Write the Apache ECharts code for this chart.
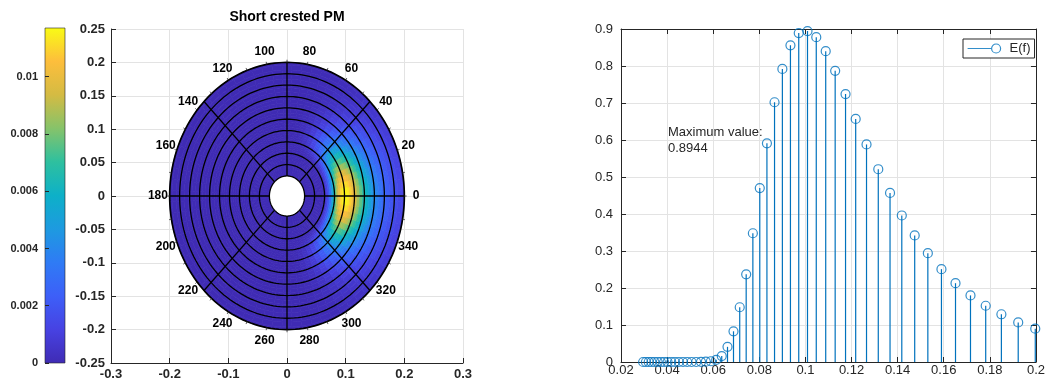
<!DOCTYPE html>
<html>
<head>
<meta charset="utf-8">
<script src="https://cdn.jsdelivr.net/npm/echarts@6/dist/echarts.min.js"></script>
<style>
  html, body { margin: 0; padding: 0; background: #fff; }
  #chart { width: 1048px; height: 383px; }
</style>
</head>
<body>
<div id="chart"></div>
<script>
// spectrum E(f)
const freqs = [0.0296, 0.0308, 0.0320, 0.0332, 0.0345, 0.0359, 0.0373, 0.0387, 0.0402, 0.0418,
  0.0434, 0.0451, 0.0469, 0.0487, 0.0506, 0.0526, 0.0547, 0.0568, 0.0590, 0.0613,
  0.0637, 0.0662, 0.0688, 0.0715, 0.0743, 0.0772, 0.0802, 0.0833, 0.0866, 0.0900,
  0.0935, 0.0971, 0.1009, 0.1047, 0.1088, 0.1129, 0.1174, 0.1218, 0.1265, 0.1316,
  0.1367, 0.1418, 0.1474, 0.1531, 0.1590, 0.1651, 0.1716, 0.1782, 0.1850, 0.1923, 0.1997]
const energy = [0, 0, 0, 0, 0, 0, 0, 0, 0, 0,
  0, 0, 0, 0, 0, 0, 0.0005, 0.001, 0.002, 0.006,
  0.016, 0.041, 0.083, 0.148, 0.237, 0.348, 0.470, 0.591, 0.702, 0.792,
  0.856, 0.889, 0.8944, 0.878, 0.840, 0.787, 0.724, 0.657, 0.588, 0.521,
  0.457, 0.396, 0.342, 0.294, 0.251, 0.213, 0.180, 0.152, 0.129, 0.107, 0.090]

// directional spreading (1/deg)
const spreadAngles = [-90, -85, -80, -75, -70, -65, -60, -55, -50, -45, -40, -35, -30, -25, -20, -15, -10, -5,
  0, 5, 10, 15, 20, 25, 30, 35, 40, 45, 50, 55, 60, 65, 70, 75, 80, 85, 90]
const spreadWeights = [0, 0.00001, 0.00007, 0.00024, 0.00052, 0.00098, 0.00164, 0.00248, 0.00347,
  0.00464, 0.00589, 0.00719, 0.0085, 0.00974, 0.01086, 0.01177, 0.01249, 0.01295,
  0.01308,
  0.01295, 0.01249, 0.01177, 0.01086, 0.00974, 0.0085, 0.00719, 0.00589, 0.00464,
  0.00347, 0.00248, 0.00164, 0.00098, 0.00052, 0.00024, 0.00007, 0.00001, 0]

const ringRadii = [0.03, 0.047, 0.064, 0.081, 0.098, 0.115, 0.132, 0.149, 0.166, 0.183, 0.2]
const spokeAngles = [0, 45, 90, 135, 180, 225, 270, 315]
const angleLabels = [0, 20, 40, 60, 80, 100, 120, 140, 160, 180, 200, 220, 240, 260, 280, 300, 320, 340]
const edgeTicks = [0, 10, 20, 30, 40, 50, 60, 70, 80, 90, 100, 110, 120, 130, 140, 150, 160, 170,
  180, 190, 200, 210, 220, 230, 240, 250, 260, 270, 280, 290, 300, 310, 320, 330, 340, 350]
const colorMax = 0.0117

const parula = ['#3f2bb4', '#4742e2', '#3d5ff8', '#2f7bf5', '#1e9ae0', '#0db0c8',
  '#2ec09f', '#86c36a', '#d4bb43', '#fdbe3c', '#f9fb15']
const FONT = '"Liberation Sans", Arial, sans-serif'
const cellStep = 5
const labelR = 0.22

// polar cells [r0, r1, a0, a1, value]
const heatCells = []
freqs.forEach((f, i) => {
  const rIn = ringRadii[0]
  const rOut = ringRadii[ringRadii.length - 1]
  const r0 = i === 0 ? rIn : Math.max(rIn, (freqs[i - 1] + f) / 2)
  const r1 = i === freqs.length - 1 ? rOut : (f + freqs[i + 1]) / 2
  for (let a = -180; a < 180; a += cellStep) {
    const k = spreadAngles.indexOf(a)
    const w = k >= 0 ? spreadWeights[k] : 0
    heatCells.push([r0, r1, a - cellStep / 2, a + cellStep / 2, energy[i] * w])
  }
})

function polarPt(api, r, deg) {
  const a = deg * Math.PI / 180
  return api.coord([r * Math.cos(a), r * Math.sin(a)])
}

const chart = echarts.init(document.getElementById('chart'))

const axisCol = '#262626'
const gridCol = '#e3e3e3'

const option = {
  animation: false,
  grid: [
    { left: 111, right: 585, top: 29, bottom: 20 },
    { left: 45, top: 28, width: 20, height: 335 },
    { left: 621, right: 4, top: 29, bottom: 21 }
  ],
  xAxis: [
    {
      gridIndex: 0, type: 'value', min: -0.3, max: 0.3, interval: 0.1,
      axisLine: { show: true, onZero: false, lineStyle: { color: axisCol } },
      axisTick: { inside: true, length: 5, lineStyle: { color: axisCol } },
      axisLabel: { margin: 5, color: axisCol, fontWeight: 'bold', fontSize: 13, fontFamily: FONT },
      splitLine: { show: true, lineStyle: { color: gridCol } }
    },
    { gridIndex: 1, type: 'value', min: 0, max: 1, show: false },
    {
      gridIndex: 2, type: 'value', min: 0.02, max: 0.2, interval: 0.02,
      axisLine: { show: true, onZero: false, lineStyle: { color: axisCol } },
      axisTick: { inside: true, length: 5, lineStyle: { color: axisCol } },
      axisLabel: { margin: 2, color: axisCol, fontSize: 13, fontFamily: FONT },
      splitLine: { show: true, lineStyle: { color: gridCol } }
    },
    {
      gridIndex: 2, type: 'value', position: 'top', min: 0.02, max: 0.2, interval: 0.02,
      axisLine: { show: true, onZero: false, lineStyle: { color: axisCol } },
      axisTick: { inside: true, length: 5, lineStyle: { color: axisCol } },
      axisLabel: { show: false }, splitLine: { show: false }
    }
  ],
  yAxis: [
    {
      gridIndex: 0, type: 'value', min: -0.25, max: 0.25, interval: 0.05,
      axisLine: { show: true, onZero: false, lineStyle: { color: axisCol } },
      axisTick: { inside: true, length: 5, lineStyle: { color: axisCol } },
      axisLabel: { margin: 6, color: axisCol, fontWeight: 'bold', fontSize: 13, fontFamily: FONT },
      splitLine: { show: true, lineStyle: { color: gridCol } }
    },
    {
      gridIndex: 1, type: 'value', min: 0, max: colorMax, interval: 0.002, z: 10,
      axisLine: { show: false },
      axisTick: { inside: true, length: 4, lineStyle: { color: axisCol } },
      axisLabel: { margin: 7, color: axisCol, fontWeight: 'bold', fontSize: 11, fontFamily: FONT, showMaxLabel: false },
      splitLine: { show: false }
    },
    {
      gridIndex: 2, type: 'value', min: 0, max: 0.9, interval: 0.1,
      axisLine: { show: true, onZero: false, lineStyle: { color: axisCol } },
      axisTick: { inside: true, length: 5, lineStyle: { color: axisCol } },
      axisLabel: { margin: 8, color: axisCol, fontSize: 13, fontFamily: FONT },
      splitLine: { show: true, lineStyle: { color: gridCol } }
    },
    {
      gridIndex: 2, type: 'value', position: 'right', min: 0, max: 0.9, interval: 0.1,
      axisLine: { show: true, onZero: false, lineStyle: { color: axisCol } },
      axisTick: { inside: true, length: 5, lineStyle: { color: axisCol } },
      axisLabel: { show: false }, splitLine: { show: false }
    }
  ],
  visualMap: {
    show: false, type: 'continuous', seriesIndex: 0, dimension: 4,
    min: 0, max: colorMax, inRange: { color: parula }
  },
  legend: {
    data: [{
      name: 'E(f)',
      icon: 'path://M0,4.5L23.5,4.5M33,4.5A4.5,4.5,0,1,1,24,4.5A4.5,4.5,0,1,1,33,4.5Z'
    }],
    left: 963, top: 39,
    itemWidth: 33, itemHeight: 9,
    padding: [3, 4, 3, 4],
    borderColor: axisCol, borderWidth: 1, backgroundColor: '#fff',
    selectedMode: false,
    itemStyle: { color: 'rgba(0,0,0,0)', borderColor: '#0072bd', borderWidth: 1.2 },
    textStyle: { fontSize: 13, color: axisCol, fontFamily: FONT, padding: [0, 0, 0, 4] }
  },
  graphic: [
    {
      type: 'text', x: 287, y: 17,
      style: { text: 'Short crested PM', align: 'center', verticalAlign: 'middle', font: 'bold 14px ' + FONT, fill: '#000' }
    },
    {
      type: 'text', x: 668, y: 124,
      style: { text: 'Maximum value:\n' + Math.max(...energy).toFixed(4), font: '13px ' + FONT, fill: axisCol, lineHeight: 16 }
    }
  ],
  series: [
    {
      type: 'custom', xAxisIndex: 0, yAxisIndex: 0,
      data: heatCells,
      renderItem: function (params, api) {
        const r0 = api.value(0), r1 = api.value(1), a0 = api.value(2), a1 = api.value(3)
        const pts = []
        for (let k = 0; k <= 2; k++) pts.push(polarPt(api, r1, a0 + (a1 - a0) * k / 2))
        for (let k = 2; k >= 0; k--) pts.push(polarPt(api, r0, a0 + (a1 - a0) * k / 2))
        const c = api.visual('color')
        return { type: 'polygon', shape: { points: pts }, style: { fill: c, stroke: c, lineWidth: 0.7 } }
      }
    },
    {
      type: 'custom', xAxisIndex: 0, yAxisIndex: 0,
      data: ringRadii.map(r => [r]),
      renderItem: function (params, api) {
        const r = api.value(0)
        const pts = []
        for (let d = 0; d < 360; d += 2) pts.push(polarPt(api, r, d))
        const outer = params.dataIndex === ringRadii.length - 1
        return {
          type: 'polygon', shape: { points: pts },
          style: { fill: params.dataIndex === 0 ? '#fff' : 'none', stroke: '#000', lineWidth: outer ? 1.7 : 1.3 }
        }
      }
    },
    {
      type: 'custom', xAxisIndex: 0, yAxisIndex: 0,
      data: spokeAngles.map(a => [a]),
      renderItem: function (params, api) {
        const a = api.value(0)
        const p0 = polarPt(api, ringRadii[0], a)
        const p1 = polarPt(api, ringRadii[ringRadii.length - 1], a)
        return { type: 'line', shape: { x1: p0[0], y1: p0[1], x2: p1[0], y2: p1[1] }, style: { stroke: '#000', lineWidth: 1.3 } }
      }
    },
    {
      type: 'custom', xAxisIndex: 0, yAxisIndex: 0,
      data: edgeTicks.map(a => [a]),
      renderItem: function (params, api) {
        const a = api.value(0)
        const rOut = ringRadii[ringRadii.length - 1]
        const p0 = polarPt(api, rOut, a)
        const p1 = polarPt(api, rOut + 0.004, a)
        return { type: 'line', shape: { x1: p0[0], y1: p0[1], x2: p1[0], y2: p1[1] }, style: { stroke: '#333', lineWidth: 0.8 } }
      }
    },
    {
      type: 'custom', xAxisIndex: 0, yAxisIndex: 0,
      data: angleLabels.map(a => [a]),
      renderItem: function (params, api) {
        const a = api.value(0)
        const p = polarPt(api, labelR, a)
        return {
          type: 'text', x: p[0], y: p[1],
          style: { text: String(a), align: 'center', verticalAlign: 'middle', font: 'bold 12px ' + FONT, fill: '#000' }
        }
      }
    },
    {
      type: 'custom', xAxisIndex: 1, yAxisIndex: 1,
      data: [[0, colorMax]],
      renderItem: function (params, api) {
        const p0 = api.coord([0, 0])
        const p1 = api.coord([1, api.value(1)])
        return {
          type: 'rect',
          shape: { x: p0[0], y: p1[1], width: p1[0] - p0[0], height: p0[1] - p1[1] },
          style: {
            fill: {
              type: 'linear', x: 0, y: 1, x2: 0, y2: 0,
              colorStops: parula.map((c, i) => ({ offset: i / (parula.length - 1), color: c }))
            },
            stroke: axisCol, lineWidth: 0.6
          }
        }
      }
    },
    {
      type: 'custom', xAxisIndex: 2, yAxisIndex: 2,
      data: freqs.map((f, i) => [f, energy[i]]),
      renderItem: function (params, api) {
        const p0 = api.coord([api.value(0), 0])
        const p1 = api.coord([api.value(0), api.value(1)])
        return { type: 'line', shape: { x1: p0[0], y1: p0[1], x2: p1[0], y2: p1[1] }, style: { stroke: '#0072bd', lineWidth: 1.2 } }
      }
    },
    {
      name: 'E(f)', type: 'scatter', xAxisIndex: 2, yAxisIndex: 2,
      data: freqs.map((f, i) => [f, energy[i]]),
      symbol: 'circle', symbolSize: 9, clip: false,
      itemStyle: { color: 'rgba(0,0,0,0)', borderColor: '#0072bd', borderWidth: 1.2 },
      emphasis: { disabled: true }
    }
  ]
}

chart.setOption(option)
</script>
</body>
</html>
